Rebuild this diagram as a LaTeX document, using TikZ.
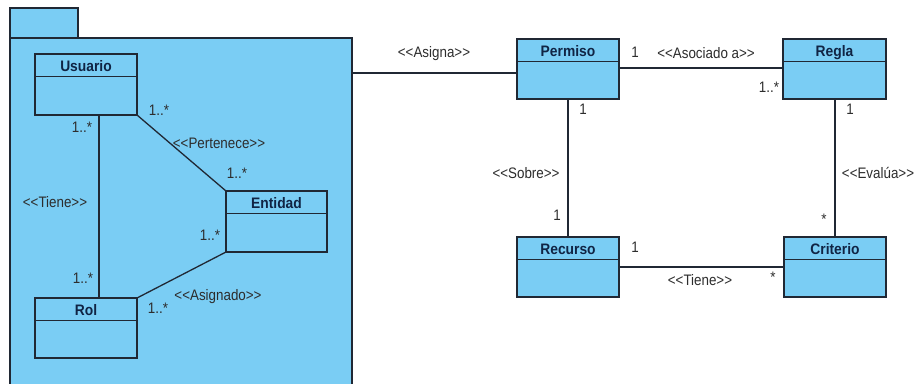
\documentclass[tikz,border=0pt]{standalone}
\usepackage{fontspec}
\setmainfont{Liberation Sans}
\newfontfamily\lblfont{Liberation Sans}[FakeStretch=0.88]
\newfontfamily\titlefont{Liberation Sans}[FakeStretch=0.91]
\usetikzlibrary{calc}
\definecolor{pkgfill}{RGB}{122,205,244}
\definecolor{lineclr}{RGB}{32,40,52}
\definecolor{titleclr}{RGB}{16,36,68}
\definecolor{lblclr}{RGB}{45,45,45}
\tikzset{
  clsbox/.style={draw=lineclr, fill=pkgfill, line width=1.3pt, rectangle, inner sep=0pt, outer sep=0pt},
  edge/.style={draw=lineclr, line width=1.3pt},
  clsname/.style={font=\titlefont\fontsize{15.2}{17}\selectfont\bfseries, text=titleclr, inner sep=0pt, anchor=base},
  lbl/.style={font=\lblfont\fontsize{15.2}{17}\selectfont, text=lblclr, inner sep=0pt, anchor=base},
}
\newcommand\st[1]{<\kern0pt<\kern0pt#1\kern0pt>\kern0pt>}
\newcommand\umlcls[6]{%
  \node[clsbox, minimum width=#4pt, minimum height=#5pt, anchor=north west] (#1) at (#2,#3) {};
  \draw[edge] ([yshift=-22.8pt]#1.north west) -- ([yshift=-22.8pt]#1.north east);
  \node[clsname] (#1-t) at ([yshift=-17.6pt]#1.north) {#6};
}
\begin{document}
\begin{tikzpicture}[x=1pt,y=-1pt]
\useasboundingbox[fill=white] (0,0) rectangle (917,383);
% package
\node[clsbox, minimum width=68pt, minimum height=30pt, anchor=north west] (tab) at (10,8) {};
\node[clsbox, minimum width=342pt, minimum height=360pt, anchor=north west] (pkg) at (10,38) {};
% classes
\umlcls{usuario}{35}{54}{102}{61}{Usuario}
\umlcls{entidad}{226}{191}{101}{61}{Entidad}
\umlcls{rol}{35}{298}{102}{60}{Rol}
\umlcls{permiso}{517}{39}{102}{60}{Permiso}
\umlcls{regla}{783}{39}{103}{60}{Regla}
\umlcls{recurso}{517}{237}{102}{60}{Recurso}
\umlcls{criterio}{784}{237}{102}{60}{Criterio}
% connectors
\draw[edge] ([xshift=64pt]usuario.south west) -- ([xshift=64pt]rol.north west);
\draw[edge] (usuario.south east) -- (entidad.north west);
\draw[edge] (rol.north east) -- (entidad.south west);
\draw[edge] (pkg.north east |- 0,73) -- (permiso.west |- 0,73);
\draw[edge] (permiso.east |- 0,68) -- (regla.west |- 0,68);
\draw[edge] (permiso.south -| 568,0) -- (recurso.north -| 568,0);
\draw[edge] (regla.south -| 835,0) -- (criterio.north -| 835,0);
\draw[edge] (recurso.east |- 0,267) -- (criterio.west |- 0,267);
% labels left
\node[lbl] (m1) at (82,132) {1..*};
\node[lbl] (m2) at (159,115) {1..*};
\node[lbl] (s1) at (219,148) {\st{Pertenece}};
\node[lbl] (m3) at (237,178) {1..*};
\node[lbl] (s2) at (55,207) {\st{Tiene}};
\node[lbl] (m4) at (210,240) {1..*};
\node[lbl] (m5) at (83,283) {1..*};
\node[lbl] (s3) at (218,300) {\st{Asignado}};
\node[lbl] (m6) at (158,313) {1..*};
% labels right
\node[lbl] (s4) at (434,57) {\st{Asigna}};
\node[lbl] (m7) at (635,57) {1};
\node[lbl] (s5) at (706,58) {\st{Asociado a}};
\node[lbl] (m8) at (769,92) {1..*};
\node[lbl] (m9) at (583,114) {1};
\node[lbl] (m10) at (850,114) {1};
\node[lbl] (s6) at (526,178) {\st{Sobre}};
\node[lbl] (s7) at (878,178) {\st{Evalúa}};
\node[lbl] (m11) at (557,220) {1};
\node[lbl] (m12) at (824,224) {*};
\node[lbl] (m13) at (635,252) {1};
\node[lbl] (s8) at (700,285) {\st{Tiene}};
\node[lbl] (m14) at (773,282) {*};
\end{tikzpicture}
\end{document}
